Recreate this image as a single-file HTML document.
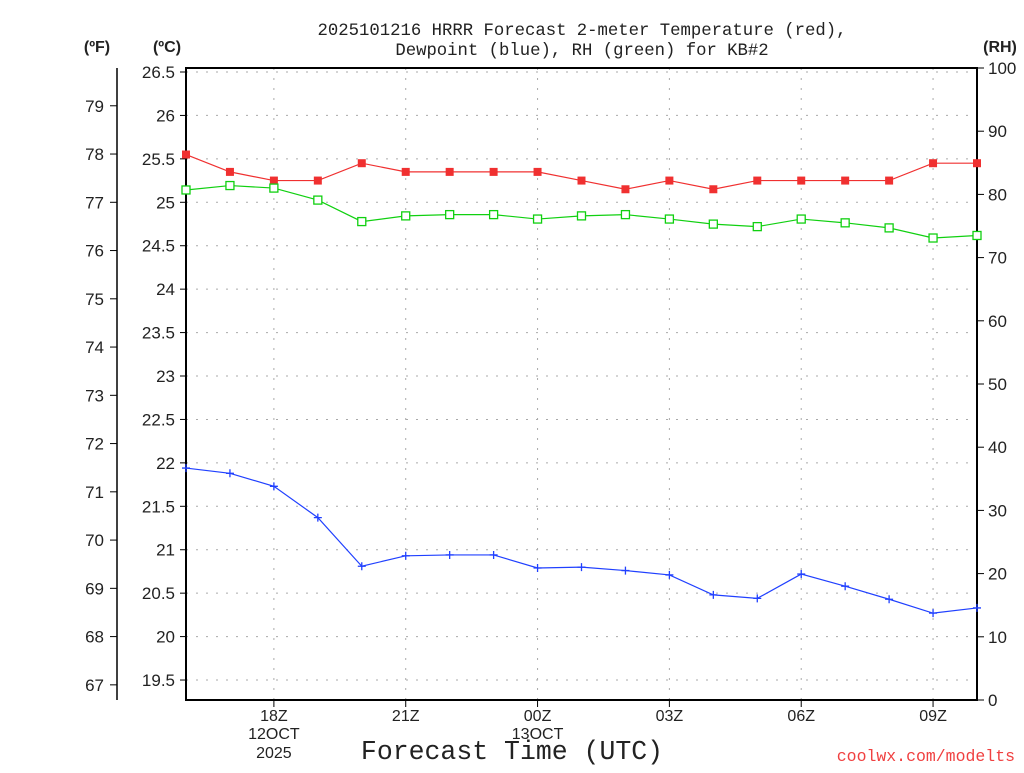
<!DOCTYPE html>
<html><head><meta charset="utf-8"><style>
body{margin:0;background:#fff;}
svg text{font-family:"Liberation Sans",sans-serif;fill:#222;}
svg text.mono{font-family:"Liberation Mono",monospace;}
</style></head><body>
<svg id="c" width="1024" height="768" viewBox="0 0 1024 768"></svg>
<script>
const hours=[16,17,18,19,20,21,22,23,24,25,26,27,28,29,30,31,32,33,34];
const tempC=[25.55,25.35,25.25,25.25,25.45,25.35,25.35,25.35,25.35,25.25,25.15,25.25,25.15,25.25,25.25,25.25,25.25,25.45,25.45];
const dewC=[21.94,21.88,21.73,21.37,20.81,20.93,20.94,20.94,20.79,20.80,20.76,20.71,20.48,20.44,20.72,20.58,20.43,20.27,20.33];
const rh=[80.7,81.4,81.0,79.1,75.7,76.6,76.8,76.8,76.1,76.6,76.8,76.1,75.3,74.9,76.1,75.5,74.7,73.1,73.5];
const cTicks=["26.5","26","25.5","25","24.5","24","23.5","23","22.5","22","21.5","21","20.5","20","19.5"];
const fTicks=["79","78","77","76","75","74","73","72","71","70","69","68","67"];
const rhTicks=["0","10","20","30","40","50","60","70","80","90","100"];
const xTicks=[18,21,24,27,30,33];
const xLabels=["18Z","21Z","00Z","03Z","06Z","09Z"];

const L=186,R=977,T=68,B=700;
const x=h=>L+(h-16)*(R-L)/18;
const yC=v=>72+(26.5-v)*86.86;
const yF=f=>yC((f-32)*5/9);
const yRH=v=>B-v*(B-T)/100;
const svg=document.getElementById('c');
const NS='http://www.w3.org/2000/svg';
function el(tag,attrs,name,txt){const e=document.createElementNS(NS,tag);for(const k in attrs)e.setAttribute(k,attrs[k]);


if(txt!==undefined)e.textContent=txt;svg.appendChild(e);return e;}

cTicks.forEach(t=>{const y=yC(+t);el('line',{x1:L,x2:R,y1:y,y2:y,stroke:'#aaa','stroke-dasharray':'2,8'},'h-gridline');});
xTicks.forEach(h=>{el('line',{x1:x(h),x2:x(h),y1:T,y2:B,stroke:'#aaa','stroke-dasharray':'2,8'},'v-gridline');});
el('rect',{x:L,y:T,width:R-L,height:B-T,fill:'none',stroke:'#000','stroke-width':2},'plot-frame');
el('line',{x1:117,x2:117,y1:T,y2:B,stroke:'#000','stroke-width':1.5},'fahrenheit-axis');
cTicks.forEach(t=>{const y=yC(+t);el('line',{x1:180,x2:L,y1:y,y2:y,stroke:'#000'},'c-tick');
el('text',{x:175,y:y+6,'text-anchor':'end','font-size':17},'c-tick-label',t);});
fTicks.forEach(t=>{const y=yF(+t);el('line',{x1:110,x2:117,y1:y,y2:y,stroke:'#000'},'f-tick');
el('text',{x:104,y:y+6,'text-anchor':'end','font-size':17},'f-tick-label',t);});
rhTicks.forEach(t=>{const y=yRH(+t);el('line',{x1:R,x2:R+7,y1:y,y2:y,stroke:'#000'},'rh-tick');
el('text',{x:988,y:y+6,'font-size':17},'rh-tick-label',t);});
xTicks.forEach((h,i)=>{el('line',{x1:x(h),x2:x(h),y1:B,y2:B+7,stroke:'#000'},'x-tick');
el('text',{x:x(h),y:721,'text-anchor':'middle','font-size':16},'x-tick-label',xLabels[i]);});
el('text',{x:x(18),y:739,'text-anchor':'middle','font-size':16},'date-label','12OCT');
el('text',{x:x(18),y:758,'text-anchor':'middle','font-size':16},'year-label','2025');
el('text',{x:x(24),y:739,'text-anchor':'middle','font-size':16},'date-label','13OCT');
function series(vals,yf,color,name){
 const pts=vals.map((v,i)=>x(hours[i])+','+yf(v)).join(' ');
 el('polyline',{points:pts,fill:'none',stroke:color,'stroke-width':1.2},name+'-line');
 return vals.map((v,i)=>[x(hours[i]),yf(v)]);
}
series(tempC,yC,'#f03030','temperature').forEach(p=>el('rect',{x:p[0]-4,y:p[1]-4,width:8,height:8,fill:'#f03030'},'temperature-point'));
series(rh,yRH,'#10d010','rh').forEach(p=>el('rect',{x:p[0]-4,y:p[1]-4,width:8,height:8,fill:'#fff',stroke:'#10d010','stroke-width':1.3},'rh-point'));
series(dewC,yC,'#2040ff','dewpoint').forEach(p=>{el('path',{d:`M${p[0]-4},${p[1]}h8M${p[0]},${p[1]-4}v8`,stroke:'#2040ff','stroke-width':1.3},'dewpoint-point');});
el('text',{x:582,y:35,'text-anchor':'middle','font-size':17.3,class:'mono'},'title-line-1','2025101216 HRRR Forecast 2-meter Temperature (red),');
el('text',{x:582,y:55,'text-anchor':'middle','font-size':17.3,class:'mono'},'title-line-2','Dewpoint (blue), RH (green) for KB#2');
el('text',{x:97,y:52,'text-anchor':'middle','font-size':16,'font-weight':'bold'},'f-unit-label','(ºF)');
el('text',{x:167,y:52,'text-anchor':'middle','font-size':16,'font-weight':'bold'},'c-unit-label','(ºC)');
el('text',{x:1000,y:52,'text-anchor':'middle','font-size':16,'font-weight':'bold'},'rh-unit-label','(RH)');
el('text',{x:512,y:759,'text-anchor':'middle','font-size':26.5,class:'mono'},'x-axis-title','Forecast Time (UTC)');
el('text',{x:1015,y:761,'text-anchor':'end','font-size':16.5,class:'mono',style:'fill:#f04040'},'watermark','coolwx.com/modelts');
</script>
</body></html>
